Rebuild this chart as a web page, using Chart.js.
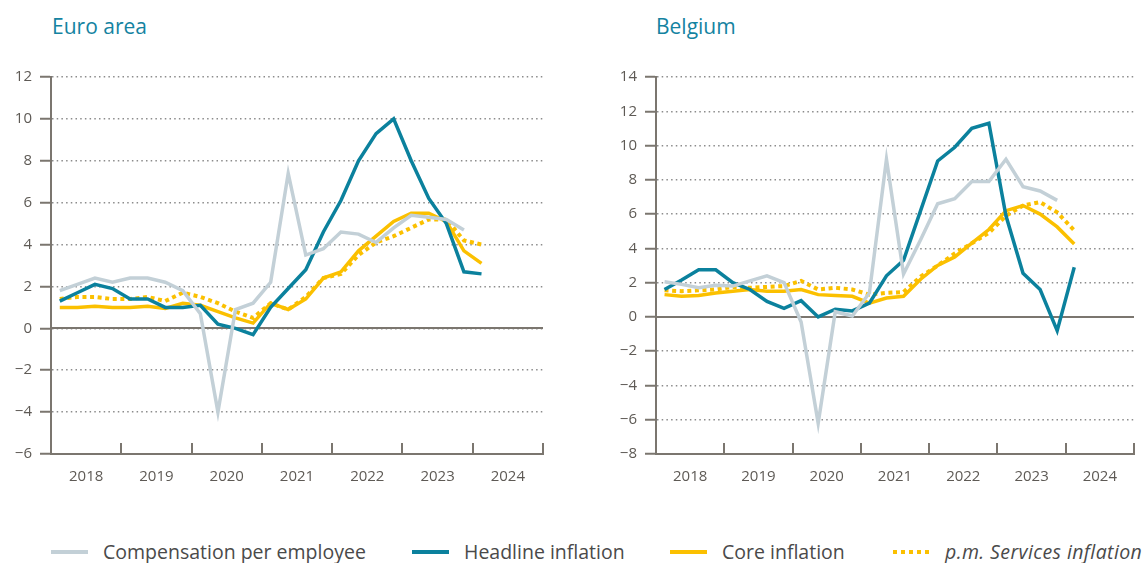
<!DOCTYPE html>
<html>
<head>
<meta charset="utf-8">
<script src="https://cdn.jsdelivr.net/npm/chart.js@4"></script>
<style>
  html, body { margin: 0; padding: 0; background: #fff; }
  body { width: 1148px; height: 563px; position: relative; overflow: hidden; font-family: "Open Sans", sans-serif; }
  .title { position: absolute; top: 12px; font-size: 21px; color: #1483a1; }
  .box { position: absolute; top: 0; height: 495px; }
  .legend { position: absolute; top: 538px; font-size: 19.5px; color: #4a4a4a; white-space: nowrap; display: flex; align-items: center; }
  .sw { width: 37px; height: 4px; margin-right: 15px; }
</style>
</head>
<body>
<div class="title" style="left:52px">Euro area</div>
<div class="title" style="left:656px">Belgium</div>
<div class="box" style="left:0;width:574px"><canvas id="euro"></canvas></div>
<div class="box" style="left:604px;width:544px"><canvas id="belgium"></canvas></div>

<div class="legend" style="left:51px"><span class="sw" style="background:#c3d0d7"></span>Compensation per employee</div>
<div class="legend" style="left:412px"><span class="sw" style="background:#0b819d"></span>Headline inflation</div>
<div class="legend" style="left:670px"><span class="sw" style="background:#fbc000"></span>Core inflation</div>
<div class="legend" style="left:893px"><span class="sw" style="background:repeating-linear-gradient(to right,#fbc000 0 4px,transparent 4px 8px)"></span><i style="letter-spacing:0.4px">p.m. Services inflation</i></div>

<script>
// quarters 2018Q1 .. 2024Q1
const quarters = ["2018Q1","2018Q2","2018Q3","2018Q4","2019Q1","2019Q2","2019Q3","2019Q4",
  "2020Q1","2020Q2","2020Q3","2020Q4","2021Q1","2021Q2","2021Q3","2021Q4",
  "2022Q1","2022Q2","2022Q3","2022Q4","2023Q1","2023Q2","2023Q3","2023Q4","2024Q1"];
const years = ["2018","2019","2020","2021","2022","2023","2024"];

// Euro area
const euroComp     = [1.8, 2.1, 2.4, 2.2, 2.4, 2.4, 2.2, 1.8, 0.7, -4.0, 0.9, 1.2, 2.2, 7.4, 3.5, 3.8, 4.6, 4.5, 4.1, 4.8, 5.4, 5.3, 5.2, 4.7];
const euroHeadline = [1.3, 1.7, 2.1, 1.9, 1.4, 1.4, 1.0, 1.0, 1.1, 0.2, 0.0, -0.3, 1.0, 1.9, 2.8, 4.6, 6.1, 8.0, 9.3, 10.0, 8.0, 6.2, 5.0, 2.7, 2.6];
const euroCore     = [1.0, 1.0, 1.05, 1.0, 1.0, 1.05, 0.95, 1.2, 1.1, 0.8, 0.5, 0.25, 1.2, 0.9, 1.4, 2.4, 2.7, 3.7, 4.4, 5.1, 5.5, 5.5, 5.1, 3.7, 3.1];
const euroServices = [1.4, 1.5, 1.5, 1.4, 1.4, 1.5, 1.3, 1.7, 1.5, 1.2, 0.8, 0.5, 1.2, 0.9, 1.5, 2.4, 2.6, 3.5, 4.1, 4.4, 4.8, 5.2, 5.2, 4.2, 4.0];

// Belgium
const beComp     = [2.05, 1.9, 1.7, 1.85, 1.8, 2.1, 2.4, 2.0, -0.3, -6.2, 0.3, 0.05, 1.4, 9.2, 2.5, 4.5, 6.6, 6.9, 7.9, 7.9, 9.2, 7.6, 7.35, 6.8];
const beHeadline = [1.6, 2.15, 2.75, 2.75, 2.0, 1.6, 0.9, 0.5, 0.95, 0.0, 0.45, 0.35, 0.8, 2.4, 3.3, 6.2, 9.1, 9.9, 11.0, 11.3, 5.9, 2.55, 1.6, -0.8, 2.9];
const beCore     = [1.3, 1.2, 1.25, 1.4, 1.5, 1.6, 1.5, 1.5, 1.6, 1.3, 1.25, 1.2, 0.8, 1.1, 1.2, 2.2, 3.0, 3.5, 4.3, 5.1, 6.2, 6.5, 6.0, 5.25, 4.25];
const beServices = [1.55, 1.5, 1.55, 1.6, 1.75, 1.7, 1.75, 1.8, 2.1, 1.6, 1.7, 1.6, 1.3, 1.4, 1.45, 2.35, 3.0, 3.7, 4.3, 4.9, 5.9, 6.5, 6.7, 6.1, 5.05];

const GREY = "#c3d0d7", TEAL = "#0b819d", YELLOW = "#fbc000";
const AXIS = "#7b766f", GRID = "#8c8c8c", TXT = "#5e5a55";

const pts = arr => arr.map((v, i) => ({ x: i + 0.5, y: v }));
const line = (label, arr, color, dotted) => ({
  label, data: pts(arr), borderColor: color, backgroundColor: color,
  borderWidth: dotted ? 4 : 3.5, borderDash: dotted ? [4, 3.6] : [],
  borderCapStyle: "butt", pointRadius: 0, tension: 0, fill: false,
});

const axisExtras = {
  id: "axisExtras",
  beforeDatasetsDraw(chart) {
    const { ctx, chartArea, scales: { x, y } } = chart;
    ctx.save();
    ctx.strokeStyle = AXIS;
    ctx.lineWidth = 2;
    ctx.beginPath();
    const y0 = Math.round(y.getPixelForValue(0));
    ctx.moveTo(chartArea.left, y0);
    ctx.lineTo(chartArea.right, y0);
    for (let q = 0; q <= quarters.length + 3; q += 4) {
      const px = Math.round(x.getPixelForValue(q));
      ctx.moveTo(px, chartArea.bottom);
      ctx.lineTo(px, chartArea.bottom - 11);
    }
    ctx.stroke();
    ctx.restore();
  }
};

function makeChart(id, series, yMin, yMax, yWidth, padRight) {
  const font = { family: "'Open Sans', sans-serif", size: 15 };
  return new Chart(document.getElementById(id), {
    type: "line",
    data: {
      datasets: [
        line("Compensation per employee", series[0], GREY, false),
        line("Headline inflation", series[1], TEAL, false),
        line("Core inflation", series[2], YELLOW, false),
        line("p.m. Services inflation", series[3], YELLOW, true),
      ]
    },
    options: {
      responsive: true,
      maintainAspectRatio: false,
      animation: false,
      layout: { padding: { top: 77, right: padRight, bottom: 0, left: 0 } },
      plugins: { legend: { display: false }, tooltip: { enabled: false } },
      scales: {
        x: {
          type: "linear", min: 0, max: 28,
          afterFit: s => { s.height = 41; },
          grid: { display: false, drawTicks: false },
          border: { display: true, color: AXIS, width: 2 },
          ticks: {
            stepSize: 2, autoSkip: false, maxRotation: 0, color: TXT, font, padding: 14,
            callback: v => (v % 4 === 2 ? years[(v - 2) / 4] : "")
          }
        },
        y: {
          min: yMin, max: yMax,
          afterFit: s => { s.width = yWidth; },
          grid: { color: GRID, lineWidth: 1.5, tickLength: 11, tickColor: AXIS, tickWidth: 2 },
          border: { display: true, color: AXIS, width: 2, dash: [1.5, 3.2] },
          ticks: {
            stepSize: 2, color: TXT, font, padding: 8,
            callback: v => String(v).replace("-", "\u2212")
          }
        }
      }
    },
    plugins: [axisExtras]
  });
}

makeChart("euro", [euroComp, euroHeadline, euroCore, euroServices], -6, 12, 51, 31);
makeChart("belgium", [beComp, beHeadline, beCore, beServices], -8, 14, 52, 8);
</script>
</body>
</html>
